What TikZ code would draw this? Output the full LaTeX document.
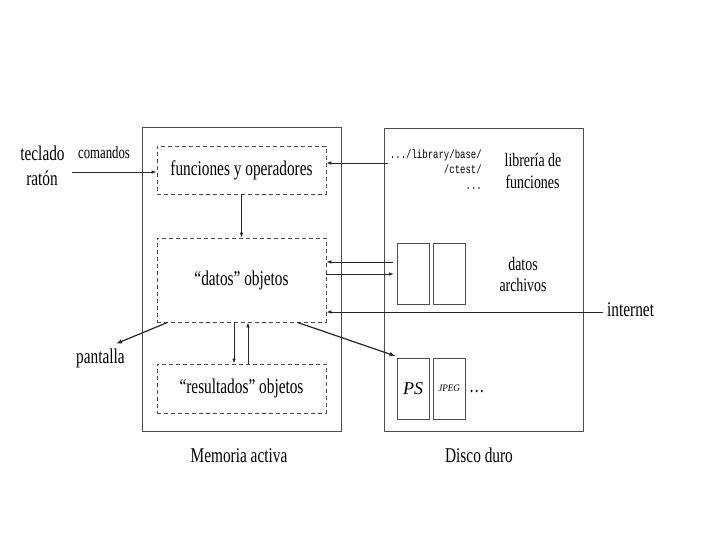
\documentclass[tikz,border=0pt]{standalone}
\usepackage{fontspec}
\setmainfont{Liberation Serif}
\newfontfamily\monof{Liberation Mono}
\usepackage{graphicx}
\usetikzlibrary{arrows.meta,calc}
\newcommand\cnd[1]{\scalebox{0.73}[1]{#1}}
\begin{document}
\begin{tikzpicture}[x=1pt,y=-1pt,
  box/.style={draw=black!70,line width=0.9pt,inner sep=0pt},
  dbox/.style={draw=black!70,line width=0.8pt,dash pattern=on 4pt off 3pt,inner sep=0pt,font=\fontsize{21}{24}\selectfont},
  filebox/.style={draw=black!70,line width=0.8pt,minimum width=32pt,minimum height=61pt,inner sep=0pt},
  big/.style={inner sep=0pt,font=\fontsize{21}{24}\selectfont},
  mid/.style={inner sep=0pt,font=\fontsize{19}{22}\selectfont},
  small/.style={inner sep=0pt,font=\fontsize{17.5}{20}\selectfont},
  mono/.style={inner sep=0pt,font=\monof\fontsize{12}{14}\selectfont},
  arr/.style={draw=black!85,line width=0.8pt,-{Latex[length=5pt,width=3.5pt]}},
  thickarr/.style={draw=black!85,line width=1.2pt,-{Latex[length=6pt,width=4.5pt]}}]
\fill[white] (0,0) rectangle (720,540);
\useasboundingbox (0,0) rectangle (720,540);

% main boxes
\node[box,minimum width=199pt,minimum height=304pt] (mem) at (241.5,279) {};
\node[box,minimum width=199pt,minimum height=303pt] (disk) at (483.5,279.5) {};

% dashed boxes
\node[dbox,minimum width=169pt,minimum height=48pt] (fun) at (241.5,170) {\cnd{funciones y operadores}};
\node[dbox,minimum width=169pt,minimum height=84pt] (datos) at (241.5,280) {\cnd{“datos” objetos}};
\node[dbox,minimum width=169pt,minimum height=49pt] (res) at (241.5,388.5) {\cnd{“resultados” objetos}};

% file boxes
\node[filebox] (file1) at (413,273.5) {};
\node[filebox] (file2) at (449,273.5) {};
\node[filebox,font=\fontsize{18}{20}\selectfont\itshape] (ps) at (413,388.5) {PS};
\node[filebox,font=\fontsize{10}{12}\selectfont\itshape] (jpeg) at (449,388.5) {\scalebox{0.9}[1]{JPEG}};
\node[big,anchor=base west] (dots) at (469,392.5) {\cnd{\ldots}};

% labels
\node[big,anchor=base] (tec) at (42.5,161) {\cnd{teclado}};
\node[big,anchor=base] (rat) at (42,186) {\cnd{ratón}};
\node[small,anchor=base] (com) at (104,159) {\cnd{comandos}};
\node[big,anchor=base] (pant) at (100.5,363) {\cnd{pantalla}};
\node[big,anchor=base] (mema) at (239,462) {\cnd{Memoria activa}};
\node[big,anchor=base] (dd) at (479,462) {\cnd{Disco duro}};
\node[mid,anchor=base] (lib1) at (533,166.5) {\cnd{librería de}};
\node[mid,anchor=base] (lib2) at (532.5,189) {\cnd{funciones}};
\node[mid,anchor=base] (dat1) at (523,270) {\cnd{datos}};
\node[mid,anchor=base] (dat2) at (523,291.5) {\cnd{archivos}};
\node[big,anchor=base west] (inet) at (607,316.5) {\cnd{internet}};
\node[mono,anchor=base east] (m1) at (482,158.5) {\scalebox{0.75}[1]{.../library/base/}};
\node[mono,anchor=base east] (m2) at (482,174) {\scalebox{0.75}[1]{/ctest/}};
\node[mono,anchor=base east] (m3) at (482,190) {\scalebox{0.75}[1]{...}};

% free ends
\coordinate (kbstart) at (72,172);
\coordinate (libstart) at (388,163);
\coordinate (fa) at (393,262);
\coordinate (fb) at (394,274);
\coordinate (inetstart) at (603,312);

% connectors
\draw[arr] (kbstart) -- (kbstart -| fun.west);
\draw[arr] (libstart) -- (libstart -| fun.east);
\draw[arr] (fun.south) -- (datos.north);
\draw[arr] (fa) -- (fa -| datos.east);
\draw[arr] (fb -| datos.east) -- (fb);
\draw[arr] (inetstart) -- (inetstart -| datos.east);
\draw[arr] ([xshift=-7.5pt]datos.south) -- ([xshift=-7.5pt]res.north);
\draw[arr] ([xshift=6.5pt]res.north) -- ([xshift=6.5pt]datos.south);
\draw[thickarr] ([xshift=11pt]datos.south west) -- ($(pant.north)+(15.5,-4.5)$);
\draw[thickarr] ([xshift=-29pt]datos.south east) -- ([xshift=-1pt,yshift=1.5pt]ps.north west);
\end{tikzpicture}
\end{document}
